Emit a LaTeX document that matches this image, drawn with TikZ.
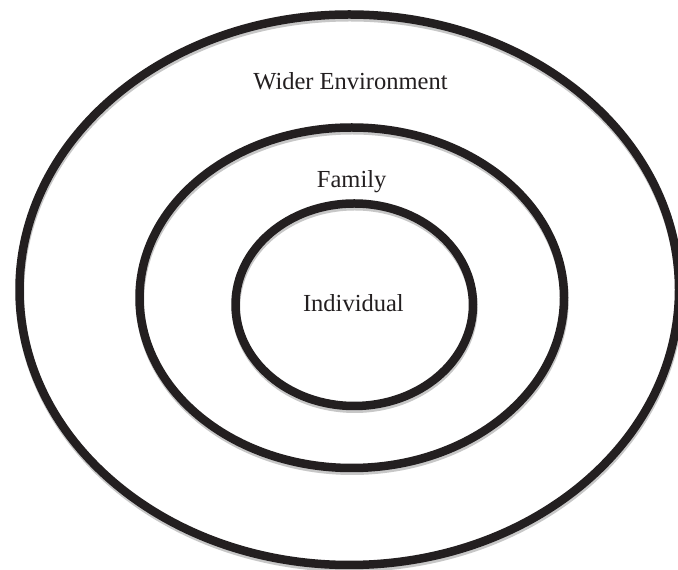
\documentclass[tikz,border=0pt]{standalone}
\usepackage{fontspec}
\setmainfont{Liberation Serif}
\usetikzlibrary{shapes.geometric}
\definecolor{ink}{HTML}{231F20}
\begin{document}
\begin{tikzpicture}[x=1pt,y=1pt,
  ring/.style={ellipse, draw=ink, line width=8.5pt, inner sep=0pt, outer sep=0pt},
  ringshadow/.style={ellipse, draw=black!22, line width=8.5pt, inner sep=0pt, outer sep=0pt},
  lbl/.style={anchor=base, text=ink, font=\fontsize{24.5}{26}\selectfont, inner sep=0pt}]
\useasboundingbox[fill=white] (0,0) rectangle (678,570);
% soft shadows
\node[ringshadow, minimum width=659.5, minimum height=550.5] (outerS) at (349.75,277.5) {};
\node[ringshadow, minimum width=424.5, minimum height=340.5] (midS) at (352.25,269.5) {};
\node[ringshadow, minimum width=237.5, minimum height=202.5] (innerS) at (354.75,262.5) {};
% rings
\node[ring, minimum width=659.5, minimum height=550.5] (outer) at (349.25,280.25) {};
\node[ring, minimum width=424.5, minimum height=340.5] (mid) at (351.75,272.25) {};
\node[ring, minimum width=237.5, minimum height=202.5] (inner) at (354.25,265.25) {};
% labels
\node[lbl] (wider) at (350.5,480) {Wider Environment};
\node[lbl] (family) at (351.7,382) {Family};
\node[lbl] (indiv) at (353.4,258) {Individual};
\end{tikzpicture}
\end{document}
